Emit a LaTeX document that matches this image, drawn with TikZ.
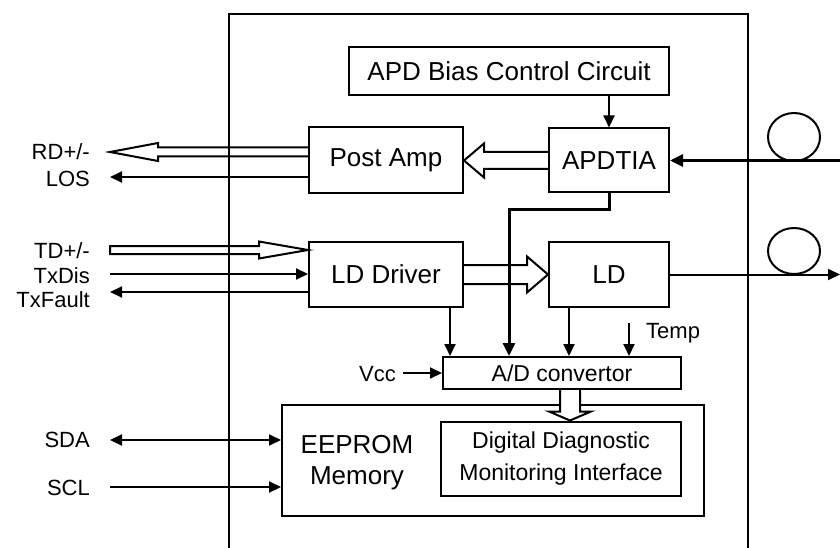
\documentclass[tikz,border=0pt]{standalone}
\usepackage{fontspec}
\setmainfont{Liberation Sans}
\usetikzlibrary{arrows.meta,calc}
\begin{document}
\begin{tikzpicture}[x=1pt,y=-1pt,
  box/.style={draw,line width=2pt,inner sep=0pt,font=\fontsize{26}{29}\selectfont},
  lbl/.style={inner sep=0pt,font=\fontsize{22}{24}\selectfont},
  arr/.style={line width=2pt,-{Triangle[length=12pt,width=11pt]}},
  thickarr/.style={line width=3pt,-{Triangle[length=13pt,width=12pt]}},
  hol/.style={line width=2pt,line join=miter}
]
\useasboundingbox (0,0) rectangle (840,548);
% enclosure
\draw[line width=2.4pt] (229,560) -- (229,14) -- (748,14) -- (748,560);

% blocks
\node[box,minimum width=320pt,minimum height=48pt] (bias) at (509,71) {APD Bias Control Circuit};
\node[box,minimum width=120pt,minimum height=64pt] (apdtia) at (609,160.5) {APDTIA};
\node[box,minimum width=154pt,minimum height=66pt] (postamp) at (386,160.5) {Post Amp};
\node[box,minimum width=154pt,minimum height=65pt] (lddriver) at (386,274.5) {LD Driver};
\node[box,minimum width=120pt,minimum height=65pt] (ld) at (609,274.5) {LD};
\node[box,minimum width=238pt,minimum height=32pt,font=\fontsize{23}{26}\selectfont] (ad) at (562,373) {A/D convertor};
\node[box,minimum width=422pt,minimum height=111pt] (eeprom) at (493,460.5) {};
\node[inner sep=0pt,align=center,font=\fontsize{26}{31}\selectfont] (eeptext) at (357,463) {EEPROM\\Memory};
\node[box,minimum width=240pt,minimum height=74pt,align=center,font=\fontsize{23}{32}\selectfont] (ddmi) at (561,458.5) {Digital Diagnostic\\Monitoring Interface};

% fibres
\draw[line width=2pt] (794,137) ellipse [x radius=26pt, y radius=24pt];
\draw[line width=2pt] (794,251) ellipse [x radius=26pt, y radius=23pt];
\coordinate (fin) at (840,160.5);
\coordinate (fout) at (840,274.5);
\draw[thickarr] (fin) -- (apdtia.east);
\draw[arr] (ld.east) -- (fout);

% bias -> apdtia
\draw[arr] (bias.south -| apdtia.north) -- (apdtia.north);

% left side signals
\coordinate (rd) at (110,152);
\coordinate (los) at (110,177);
\coordinate (td) at (110,250);
\coordinate (txdis) at (110,274);
\coordinate (txf) at (110,292);
\coordinate (sda) at (110,440);
\coordinate (scl) at (110,487);
\draw[arr] (postamp.west |- los) -- (los);
\draw[arr] (txdis) -- (lddriver.west |- txdis);
\draw[arr] (lddriver.west |- txf) -- (txf);
\draw[line width=2pt,{Triangle[length=12pt,width=11pt]}-{Triangle[length=12pt,width=11pt]}] (sda) -- (eeprom.west |- sda);
\draw[arr] (scl) -- (eeprom.west |- scl);

\node[lbl,anchor=east] (lrd) at (90,152) {RD+/-};
\node[lbl,anchor=east] (llos) at (90,179) {LOS};
\node[lbl,anchor=east] (ltd) at (90,251) {TD+/-};
\node[lbl,anchor=east] (ltxdis) at (90,276) {TxDis};
\node[lbl,anchor=east] (ltxf) at (90,300) {TxFault};
\node[lbl,anchor=east] (lsda) at (90,440) {SDA};
\node[lbl,anchor=east] (lscl) at (90,488) {SCL};

% inputs to A/D
\coordinate (a1) at ($(lddriver.south)+(64,0)$);
\coordinate (a2) at ($(ld.south)+(-40,0)$);
\coordinate (temp) at (629,323);
\coordinate (vcc) at (403,373);
\draw[arr] (a1) -- (a1 |- ad.north);
\draw[arr] (a2) -- (a2 |- ad.north);
\draw[arr] (temp) -- (temp |- ad.north);
\draw[arr] (vcc) -- (ad.west |- vcc);
\draw[thickarr] (apdtia.south) -- ++(0,16) -| ($(ad.north)+(-53,0)$);
\node[lbl,anchor=west] (ltemp) at (646,333) {Temp};
\node[lbl,anchor=east] (lvcc) at (396,374) {Vcc};

% hollow (bus) arrows
% APDTIA -> Post Amp
\draw[hol] ($(apdtia.west)+(0,-8.5)$) -- ($(postamp.east)+(20,-8.5)$) -- ($(postamp.east)+(20,-17)$)
  -- (postamp.east) -- ($(postamp.east)+(20,17)$) -- ($(postamp.east)+(20,8.5)$) -- ($(apdtia.west)+(0,8.5)$);
% Post Amp -> RD+/-
\draw[hol] ($(postamp.west |- rd)+(0,-4.5)$) -- ($(rd)+(48,-4.5)$) -- ($(rd)+(48,-9)$) -- (rd)
  -- ($(rd)+(48,9)$) -- ($(rd)+(48,4.5)$) -- ($(postamp.west |- rd)+(0,4.5)$);
% TD+/- -> LD Driver
\coordinate (tdtip) at (lddriver.west |- td);
\draw[hol] ($(td)+(0,-4)$) -- ($(tdtip)+(-49,-4)$) -- ($(tdtip)+(-49,-8.5)$) -- (tdtip)
  -- ($(tdtip)+(-49,8.5)$) -- ($(tdtip)+(-49,4)$) -- ($(td)+(0,4)$) -- cycle;
% LD Driver -> LD
\draw[hol] ($(lddriver.east)+(0,-9.5)$) -- ($(ld.west)+(-21,-9.5)$) -- ($(ld.west)+(-21,-18)$) -- (ld.west)
  -- ($(ld.west)+(-21,18)$) -- ($(ld.west)+(-21,9.5)$) -- ($(lddriver.east)+(0,9.5)$);
% A/D -> DDMI
\coordinate (adtip) at ($(ddmi.north)+(9,0)$);
\draw[hol,fill=white] ($(adtip |- ad.south)+(-10,0)$) -- ($(adtip)+(-10,-9)$) -- ($(adtip)+(-21,-9)$) -- (adtip)
  -- ($(adtip)+(21,-9)$) -- ($(adtip)+(10,-9)$) -- ($(adtip |- ad.south)+(10,0)$);
\end{tikzpicture}
\end{document}
